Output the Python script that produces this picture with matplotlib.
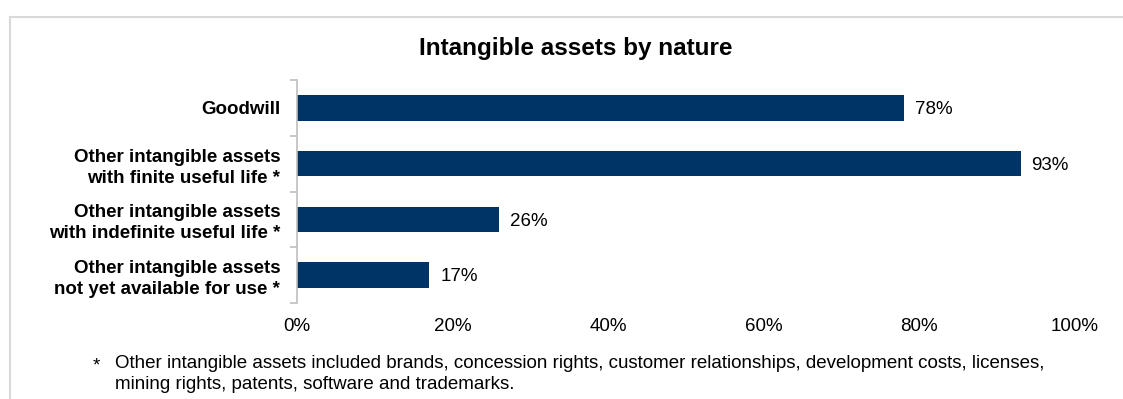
import matplotlib
matplotlib.use("Agg")
import matplotlib.pyplot as plt
from matplotlib.lines import Line2D
from matplotlib.ticker import FixedLocator

plt.rcParams['font.family'] = ['Liberation Sans', 'DejaVu Sans']

# dados
categorias = [
    "Goodwill",
    "Other intangible assets\nwith finite useful life *",
    "Other intangible assets\nwith indefinite useful life *",
    "Other intangible assets\nnot yet available for use *",
]
valores = [78, 93, 26, 17]
xticks = [0, 20, 40, 60, 80, 100]

azul = "#003366"
cinza = "#bfbfbf"
fs = 13.5

W, H = 1123, 399
fig = plt.figure(figsize=(W / 100, H / 100), dpi=100)

# moldura clara (so topo e esquerda aparecem)
fig.add_artist(Line2D([10 / W, 10 / W], [0, 1 - 17 / H], color="#d9d9d9", lw=1.5))
fig.add_artist(Line2D([10 / W, 1], [1 - 17 / H, 1 - 17 / H], color="#d9d9d9", lw=1.5))

ax = fig.add_axes([297 / W, (H - 303) / H, (1075 - 297) / W, (303 - 80) / H])

pos = list(range(len(categorias)))
ax.barh(pos, valores, height=0.46, color=azul)

for p, v in zip(pos, valores):
    ax.text(v + 1.4, p + 0.03, f"{v}%", va="center", ha="left", fontsize=fs)

ax.set_xlim(0, 100)
ax.set_ylim(len(categorias) - 0.5, -0.5)

ax.set_xticks(xticks)
ax.set_xticklabels([f"{t}%" for t in xticks], fontsize=fs)
ax.tick_params(axis="x", length=0, pad=11)

ax.set_yticks(pos)
ax.set_yticklabels(categorias, fontsize=fs, fontweight="bold", ha="right", linespacing=1.3)
ax.tick_params(axis="y", which="major", length=0, pad=12)
ax.yaxis.set_minor_locator(FixedLocator([i - 0.5 for i in range(len(categorias) + 1)]))
ax.tick_params(axis="y", which="minor", length=5, color=cinza, width=1.2)

for s in ["top", "right", "bottom"]:
    ax.spines[s].set_visible(False)
ax.spines["left"].set_color(cinza)
ax.spines["left"].set_linewidth(1.2)

fig.text(576 / W, 1 - 49 / H, "Intangible assets by nature", ha="center", va="center",
         fontsize=17.5, fontweight="bold")

fig.text(96 / W, 1 - 366 / H, "*", ha="center", va="center", fontsize=fs)
fig.text(115 / W, 1 - 374 / H,
         "Other intangible assets included brands, concession rights, customer relationships, development costs, licenses,\n"
         "mining rights, patents, software and trademarks.",
         ha="left", va="center", fontsize=fs, linespacing=1.25)

fig.savefig("out.png", dpi=100)
